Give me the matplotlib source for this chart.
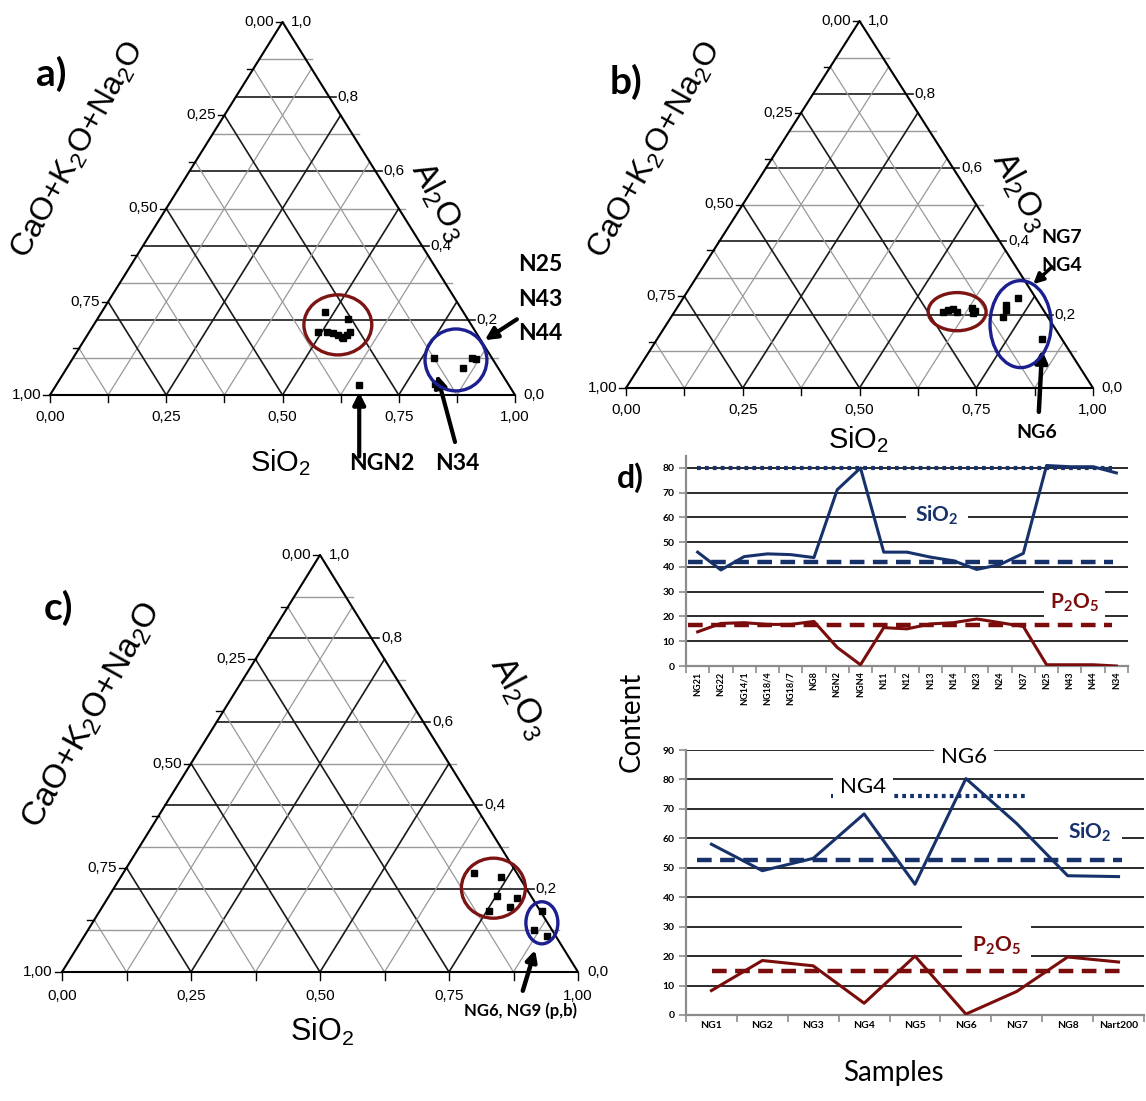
import matplotlib
matplotlib.use('Agg')
import matplotlib.pyplot as plt
from matplotlib.patches import Ellipse
import numpy as np

plt.rcParams['mathtext.fontset'] = 'custom'
plt.rcParams['mathtext.rm'] = 'Liberation Sans'
plt.rcParams['mathtext.it'] = 'Liberation Sans:italic'
plt.rcParams['mathtext.bf'] = 'Lato:bold'

# ---------------- data ----------------
# Ternary diagrams: normalised (SiO2, Al2O3) fractions; CaO+K2O+Na2O = 1 - SiO2 - Al2O3
a_red_sio2 = [0.480, 0.539, 0.492, 0.511, 0.526, 0.539, 0.554, 0.558, 0.561, 0.550]
a_red_al2o3 = [0.223, 0.204, 0.169, 0.169, 0.166, 0.161, 0.153, 0.161, 0.169, 0.155]
a_blue_sio2 = [0.776, 0.858, 0.868, 0.852, 0.814]
a_blue_al2o3 = [0.099, 0.099, 0.097, 0.072, 0.029]
a_ngn2_sio2 = [0.651]
a_ngn2_al2o3 = [0.027]

b_red_sio2 = [0.575, 0.584, 0.594, 0.604, 0.632, 0.642, 0.642]
b_red_al2o3 = [0.208, 0.213, 0.214, 0.208, 0.217, 0.204, 0.211]
b_blue_sio2 = [0.717, 0.701, 0.708, 0.711, 0.824]
b_blue_al2o3 = [0.244, 0.226, 0.213, 0.194, 0.133]

c_red_sio2 = [0.679, 0.737, 0.751, 0.792, 0.755, 0.790]
c_red_al2o3 = [0.237, 0.227, 0.183, 0.178, 0.146, 0.157]
c_blue_sio2 = [0.857, 0.864, 0.897]
c_blue_al2o3 = [0.146, 0.101, 0.086]

# Panel d (top)
top_samples = ['NG21', 'NG22', 'NG14/1', 'NG18/4', 'NG18/7', 'NG8', 'NGN2', 'NGN4', 'N11',
               'N12', 'N13', 'N14', 'N23', 'N24', 'N37', 'N25', 'N43', 'N44', 'N34']
top_sio2 = [46, 38.8, 44.2, 45.3, 45, 43.8, 71.2, 80, 46, 46, 44, 42.5, 39, 41, 45.5, 81, 80.5, 80.5, 78]
top_p2o5 = [13.8, 17.2, 17.5, 16.8, 16.8, 18, 7.5, 0.5, 15.5, 15, 17, 17.5, 19, 17.5, 16, 0.5, 0.5, 0.5, 0]
top_sio2_high = 80
top_sio2_mean = 42
top_p2o5_mean = 16.5

# Panel d (bottom)
bot_samples = ['NG1', 'NG2', 'NG3', 'NG4', 'NG5', 'NG6', 'NG7', 'NG8', 'Nart200']
bot_sio2 = [58, 49, 53.2, 68.3, 44.4, 80.3, 65, 47.3, 47]
bot_p2o5 = [8.3, 18.5, 16.7, 4, 20, 0.3, 8, 19.7, 18]
bot_sio2_high = 74.3
bot_sio2_mean = 52.5
bot_p2o5_mean = 15

# ---------------- figure ----------------
W, H = 1146, 1101
fig = plt.figure(figsize=(W / 100, H / 100), dpi=100)

RED = '#7d1414'
BLUE = '#1b1f8f'
NAVY = '#17326b'
MAROON = '#7a0c0c'
NARROW = ['Liberation Sans Narrow', 'Liberation Sans', 'DejaVu Sans']
ARIAL = ['Liberation Sans', 'DejaVu Sans']
CAL = ['Lato', 'DejaVu Sans']


def px_axes(left, top, right, bottom):
    return fig.add_axes([left / W, 1 - bottom / H, (right - left) / W, (bottom - top) / H])


def cart(si, al):
    si = np.asarray(si, float)
    al = np.asarray(al, float)
    return si + al / 2, al


def draw_ternary(ax, tfs=11, title_fs=23, left_title=(0.06, 0.65), right_title=(0.83, 0.53),
                 bottom_title=(0.5, -0.17), bottom_fs=21, letter='a)', letter_pos=(0, 0.86)):
    ax.set_xlim(0, 1)
    ax.set_ylim(0, 1)
    ax.axis('off')
    for k in range(1, 10):
        al = k / 10
        dark = k % 2 == 0
        ax.plot([al / 2, 1 - al / 2 + 0.014], [al, al], color='0.1' if dark else '0.6',
                lw=1.2 if dark else 1.0, clip_on=False, zorder=1)
    for k in range(1, 8):
        f = k / 8
        dark = k % 2 == 0
        c = '0.1' if dark else '0.6'
        lw = 1.2 if dark else 0.9
        ax.plot([f, f + (1 - f) / 2], [0, 1 - f], color=c, lw=lw, clip_on=False, zorder=1)
        ax.plot([1 - f, (1 - f) / 2], [0, 1 - f], color=c, lw=lw, clip_on=False, zorder=1)
    ax.plot([0, 1, 0.5, 0], [0, 0, 1, 0], color='k', lw=1.5, clip_on=False, zorder=2)
    for k in range(9):
        f = k / 8
        ax.plot([f, f], [0, -0.018], color='k', lw=1, clip_on=False)
        ax.plot([(1 - f) / 2, (1 - f) / 2 - 0.014], [1 - f, 1 - f], color='k', lw=1, clip_on=False)
    for k in range(5):
        f = k / 4
        lab = f'{f:.2f}'.replace('.', ',')
        ax.text(f, -0.04, lab, ha='center', va='top', fontsize=tfs, family=NARROW)
        ax.text((1 - f) / 2 - 0.018, 1 - f, lab, ha='right', va='center', fontsize=tfs, family=NARROW)
    for k in range(6):
        al = k / 5
        ax.text(1 - al / 2 + 0.018, al, f'{al:.1f}'.replace('.', ','), ha='left', va='center',
                fontsize=tfs, family=NARROW)
    ax.text(*left_title, 'CaO+K$_2$O+Na$_2$O', rotation=61, ha='center', va='center',
            fontsize=title_fs, family=ARIAL)
    ax.text(*right_title, 'Al$_2$O$_3$', rotation=-62, ha='center', va='center',
            fontsize=title_fs + 1, family=ARIAL)
    ax.text(*bottom_title, 'SiO$_2$', ha='center', va='center', fontsize=bottom_fs, family=ARIAL)
    ax.text(*letter_pos, letter, ha='left', va='center', fontsize=28, fontweight='bold', family=CAL)


def pts(ax, si, al):
    x, y = cart(si, al)
    ax.plot(x, y, 's', color='k', ms=5, zorder=5, clip_on=False)


def ell(ax, center, w, h, color):
    ax.add_patch(Ellipse(center, w, h, fill=False, ec=color, lw=2.4, zorder=6, clip_on=False))


def arrow(ax, tail, tip, lw=3, ms=18):
    ax.annotate('', xy=tip, xytext=tail, annotation_clip=False,
                arrowprops=dict(arrowstyle='-|>', lw=lw, color='k', mutation_scale=ms,
                                shrinkA=0, shrinkB=0))


# ---- panel a ----
axa = px_axes(50, 22, 515, 395)
draw_ternary(axa, left_title=(0.06, 0.655), right_title=(0.835, 0.52), bottom_title=(0.495, -0.18),
             letter='a)', letter_pos=(-0.03, 0.86))
pts(axa, a_red_sio2, a_red_al2o3)
pts(axa, a_blue_sio2, a_blue_al2o3)
pts(axa, a_ngn2_sio2, a_ngn2_al2o3)
ell(axa, (0.619, 0.188), 0.146, 0.161, RED)
ell(axa, (0.873, 0.094), 0.133, 0.166, BLUE)
arrow(axa, (0.665, -0.165), (0.665, 0.008))
arrow(axa, (0.871, -0.126), (0.832, 0.055))
arrow(axa, (1.004, 0.203), (0.935, 0.147))
for txt, y in zip(['N25', 'N43', 'N44'], [0.349, 0.255, 0.166]):
    axa.text(1.006, y, txt, ha='left', va='center', fontsize=16.5, fontweight='bold', family=CAL)
axa.text(0.714, -0.183, 'NGN2', ha='center', va='center', fontsize=16.5, fontweight='bold', family=CAL)
axa.text(0.875, -0.183, 'N34', ha='center', va='center', fontsize=16.5, fontweight='bold', family=CAL)

# ---- panel b ----
axb = px_axes(626, 21, 1093, 388)
draw_ternary(axb, left_title=(0.062, 0.649), right_title=(0.842, 0.535), bottom_title=(0.497, -0.14),
             letter='b)', letter_pos=(-0.035, 0.834))
pts(axb, b_red_sio2, b_red_al2o3)
pts(axb, b_blue_sio2, b_blue_al2o3)
ell(axb, (0.709, 0.208), 0.124, 0.104, RED)
ell(axb, (0.845, 0.174), 0.131, 0.237, BLUE)
arrow(axb, (0.884, -0.065), (0.891, 0.104), lw=3.2)
arrow(axb, (0.912, 0.33), (0.872, 0.283), lw=2.5, ms=15)
axb.text(0.89, 0.411, 'NG7', ha='left', va='center', fontsize=14, fontweight='bold', family=CAL)
axb.text(0.89, 0.335, 'NG4', ha='left', va='center', fontsize=14, fontweight='bold', family=CAL)
axb.text(0.88, -0.12, 'NG6', ha='center', va='center', fontsize=14, fontweight='bold', family=CAL)

# ---- panel c ----
axc = px_axes(62, 555, 578, 972)
draw_ternary(axc, title_fs=24, left_title=(0.058, 0.616), right_title=(0.886, 0.66),
             bottom_title=(0.504, -0.144), bottom_fs=22, letter='c)', letter_pos=(-0.035, 0.873))
pts(axc, c_red_sio2, c_red_al2o3)
pts(axc, c_blue_sio2, c_blue_al2o3)
ell(axc, (0.836, 0.201), 0.124, 0.144, RED)
ell(axc, (0.930, 0.118), 0.062, 0.101, BLUE)
arrow(axc, (0.893, -0.045), (0.917, 0.053), lw=3.2, ms=16)
axc.text(0.888, -0.092, 'NG6, NG9 (p,b)', ha='center', va='center', fontsize=12,
         fontweight='bold', family=CAL)


# ---- panel d ----
def style_line_axes(ax, n, labels, ymax, yticks, rot, xfs):
    ax.set_xlim(-0.5, n - 0.5)
    ax.set_ylim(0, ymax)
    ax.set_yticks(yticks)
    ax.yaxis.grid(True, color='0.1', lw=1.3, zorder=0)
    ax.set_axisbelow(True)
    for s in ['top', 'right']:
        ax.spines[s].set_visible(False)
    for s in ['left', 'bottom']:
        ax.spines[s].set_color('0.55')
        ax.spines[s].set_linewidth(1.6)
    ax.set_xticks(np.arange(n))
    ax.set_xticklabels(labels, rotation=rot, fontsize=xfs, fontweight='bold', family=CAL)
    ax.set_xticks(np.arange(n + 1) - 0.5, minor=True)
    ax.tick_params(axis='x', which='major', length=0, pad=4)
    ax.tick_params(axis='x', which='minor', length=5, color='0.55', width=1.2, direction='out')
    ax.tick_params(axis='y', length=5, color='0.55', width=1.2, labelsize=7.5, pad=3)
    for t in ax.get_yticklabels():
        t.set_fontweight('bold')
        t.set_family(CAL)


axd1 = px_axes(686, 455.6, 1128, 666)
n1 = len(top_samples)
style_line_axes(axd1, n1, top_samples, 85, range(0, 81, 10), 90, 6.5)
x1 = np.arange(n1)
axd1.plot(x1, top_sio2, color=NAVY, lw=2.2, zorder=3)
axd1.plot(x1, top_p2o5, color=MAROON, lw=2.2, zorder=3)
axd1.plot([-0.03, 17.8], [top_sio2_high] * 2, color=NAVY, lw=3, ls=(0, (0.9, 1.0)), zorder=2)
axd1.plot([-0.4, 17.85], [top_sio2_mean] * 2, color=NAVY, lw=3.2, ls=(0, (3.3, 1.9)), zorder=2)
axd1.plot([-0.4, 17.8], [top_p2o5_mean] * 2, color=MAROON, lw=3.2, ls=(0, (3.3, 1.9)), zorder=2)
axd1.text(10.3, 61, 'SiO$_\\mathbf{2}$', color=NAVY, fontsize=15, fontweight='bold', family=CAL,
          ha='center', va='center', zorder=4,
          bbox=dict(fc='white', ec='none', boxstyle='square,pad=0.45'))
axd1.text(16.2, 25.5, 'P$_\\mathbf{2}$O$_\\mathbf{5}$', color=MAROON, fontsize=15, fontweight='bold',
          family=CAL, ha='center', va='center', zorder=4,
          bbox=dict(fc='white', ec='none', boxstyle='square,pad=0.3'))
fig.text(630 / W, 1 - 478 / H, 'd)', fontsize=23, fontweight='bold', family=CAL, ha='center', va='center')

axd2 = px_axes(686, 750, 1144, 1015)
n2 = len(bot_samples)
style_line_axes(axd2, n2, bot_samples, 90, range(0, 91, 10), 0, 7.5)
x2 = np.arange(n2)
axd2.plot(x2, bot_sio2, color=NAVY, lw=2.2, zorder=3)
axd2.plot(x2, bot_p2o5, color=MAROON, lw=2.2, zorder=3)
axd2.plot([2.34, 6.17], [bot_sio2_high] * 2, color=NAVY, lw=3, ls=(0, (0.9, 1.0)), zorder=2)
axd2.plot([-0.28, 8.07], [bot_sio2_mean] * 2, color=NAVY, lw=3.2, ls=(0, (3.3, 1.9)), zorder=2)
axd2.plot([0.02, 8.07], [bot_p2o5_mean] * 2, color=MAROON, lw=3.2, ls=(0, (3.3, 1.9)), zorder=2)
axd2.text(4.96, 87.5, 'NG6', fontsize=16, family=CAL, ha='center', va='center', zorder=4,
          bbox=dict(fc='white', ec='none', boxstyle='square,pad=0.3'))
axd2.text(2.98, 77.5, 'NG4', fontsize=16, family=CAL, ha='center', va='center', zorder=4,
          bbox=dict(fc='white', ec='none', boxstyle='square,pad=0.3'))
axd2.text(7.44, 62, 'SiO$_\\mathbf{2}$', color=NAVY, fontsize=15, fontweight='bold', family=CAL,
          ha='center', va='center', zorder=4,
          bbox=dict(fc='white', ec='none', boxstyle='square,pad=0.5'))
axd2.text(5.6, 23.5, 'P$_\\mathbf{2}$O$_\\mathbf{5}$', color=MAROON, fontsize=15, fontweight='bold',
          family=CAL, ha='center', va='center', zorder=4,
          bbox=dict(fc='white', ec='none', boxstyle='square,pad=0.5'))

fig.text(632 / W, 1 - 722 / H, 'Content', rotation=90, fontsize=20, family=CAL, ha='center', va='center')
fig.text(893 / W, 1 - 1073 / H, 'Samples', fontsize=20, family=CAL, ha='center', va='center')

fig.savefig('out.png', dpi=100)
